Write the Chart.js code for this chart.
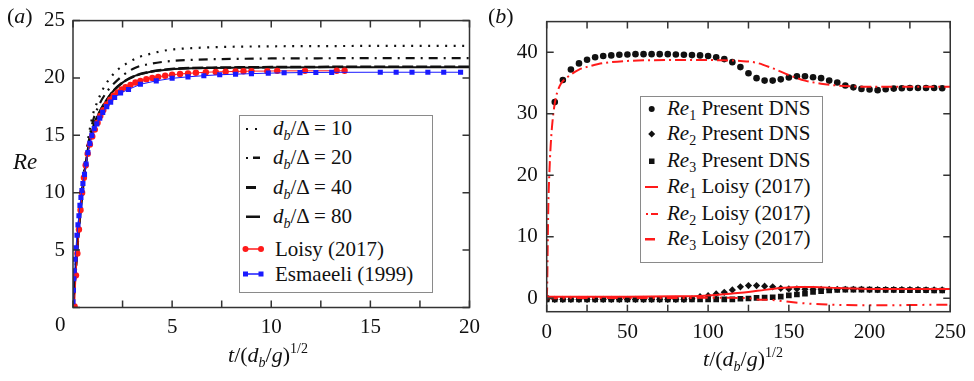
<!DOCTYPE html>
<html>
<head>
<meta charset="utf-8">
<script src="https://cdn.jsdelivr.net/npm/chart.js@4.4.1/dist/chart.umd.min.js"></script>
<style>
body{margin:0;background:#fff;}
#wrap{position:relative;width:974px;height:381px;font-family:"Liberation Serif",Tinos,"Noto Serif",serif;color:#111;}
canvas{position:absolute;top:0;}
.t{position:absolute;white-space:nowrap;font-size:21px;line-height:1;}
i{font-style:italic;}
sub{font-size:14px;vertical-align:-5px;line-height:0;}
sup{font-size:14px;vertical-align:9px;line-height:0;}
.box{position:absolute;border:1px solid #8a8a8a;background:#fff;}
.row{position:absolute;height:24px;line-height:24px;font-size:21px;white-space:nowrap;}
</style>
</head>
<body>
<div id="wrap">
  <canvas id="chartA" width="487" height="381" style="left:0"></canvas>
  <canvas id="chartB" width="487" height="381" style="left:487px"></canvas>

  <div class="t" style="left:7px;top:5px;font-size:22px">(<i>a</i>)</div>
  <div class="t" style="left:488px;top:5px;font-size:22px">(<i>b</i>)</div>
  <div class="t" style="left:13px;top:150px;font-size:23px"><i>Re</i></div>
  <div class="t" style="left:55px;top:314px">0</div>
  <div class="t" style="left:228px;top:344px;font-size:22px"><i>t</i>/(<i>d</i><sub><i>b</i></sub>/<i>g</i>)<sup>1/2</sup></div>
  <div class="t" style="left:703px;top:348px;font-size:22px"><i>t</i>/(<i>d</i><sub><i>b</i></sub>/<i>g</i>)<sup>1/2</sup></div>

  <!-- legend (a) -->
  <div class="box" style="left:239px;top:115px;width:192px;height:176px"></div>
  <div class="row" style="left:242px;top:116px">
    <svg width="26" height="24" style="position:absolute;left:0"><rect x="4" y="12" width="2" height="2" fill="#111"/><rect x="13" y="12" width="2" height="2" fill="#111"/></svg>
    <span style="position:absolute;left:31px"><i>d</i><sub><i>b</i></sub>/Δ = 10</span></div>
  <div class="row" style="left:242px;top:145px">
    <svg width="26" height="24" style="position:absolute;left:0"><rect x="4" y="12" width="2" height="2" fill="#111"/><rect x="11" y="11.5" width="7" height="2.5" fill="#111"/></svg>
    <span style="position:absolute;left:31px"><i>d</i><sub><i>b</i></sub>/Δ = 20</span></div>
  <div class="row" style="left:242px;top:175px">
    <svg width="26" height="24" style="position:absolute;left:0"><rect x="4" y="11" width="10" height="3" fill="#111"/></svg>
    <span style="position:absolute;left:31px"><i>d</i><sub><i>b</i></sub>/Δ = 40</span></div>
  <div class="row" style="left:242px;top:204px">
    <svg width="26" height="24" style="position:absolute;left:0"><rect x="4" y="11.5" width="14" height="2.5" fill="#111"/></svg>
    <span style="position:absolute;left:31px"><i>d</i><sub><i>b</i></sub>/Δ = 80</span></div>
  <div class="row" style="left:242px;top:237px">
    <svg width="26" height="24" style="position:absolute;left:0"><line x1="3" y1="12" x2="19" y2="12" stroke="#ff1a1a" stroke-width="1.5"/><circle cx="3.5" cy="12" r="3" fill="#ff1a1a"/><circle cx="19" cy="12" r="3" fill="#ff1a1a"/></svg>
    <span style="position:absolute;left:33px">Loisy (2017)</span></div>
  <div class="row" style="left:242px;top:262px">
    <svg width="26" height="24" style="position:absolute;left:0"><line x1="3" y1="12" x2="19" y2="12" stroke="#1a1aff" stroke-width="1.5"/><rect x="1" y="9.5" width="5" height="5" fill="#1a1aff"/><rect x="16.5" y="9.5" width="5" height="5" fill="#1a1aff"/></svg>
    <span style="position:absolute;left:33px">Esmaeeli (1999)</span></div>

  <!-- legend (b) -->
  <div class="box" style="left:640px;top:96px;width:181px;height:165px"></div>
  <div class="row" style="left:642px;top:96px">
    <svg width="22" height="24" style="position:absolute;left:0"><circle cx="9.7" cy="13" r="3" fill="#111"/></svg>
    <span style="position:absolute;left:25px"><i>Re</i><sub>1</sub> Present DNS</span></div>
  <div class="row" style="left:642px;top:121px">
    <svg width="22" height="24" style="position:absolute;left:0"><polygon points="9.7,9.5 13.2,13 9.7,16.5 6.2,13" fill="#111"/></svg>
    <span style="position:absolute;left:25px"><i>Re</i><sub>2</sub> Present DNS</span></div>
  <div class="row" style="left:642px;top:148px">
    <svg width="22" height="24" style="position:absolute;left:0"><rect x="7" y="10.5" width="5.5" height="5.5" fill="#111"/></svg>
    <span style="position:absolute;left:25px"><i>Re</i><sub>3</sub> Present DNS</span></div>
  <div class="row" style="left:642px;top:174px">
    <svg width="22" height="24" style="position:absolute;left:0"><rect x="3" y="12" width="13" height="2" fill="#ff1a1a"/></svg>
    <span style="position:absolute;left:25px"><i>Re</i><sub>1</sub> Loisy (2017)</span></div>
  <div class="row" style="left:642px;top:201px">
    <svg width="22" height="24" style="position:absolute;left:0"><rect x="4" y="12" width="2" height="2" fill="#ff1a1a"/><rect x="9" y="12" width="7" height="2" fill="#ff1a1a"/></svg>
    <span style="position:absolute;left:25px"><i>Re</i><sub>2</sub> Loisy (2017)</span></div>
  <div class="row" style="left:642px;top:226px">
    <svg width="22" height="24" style="position:absolute;left:0"><rect x="3" y="12" width="10" height="2.5" fill="#ff1a1a"/></svg>
    <span style="position:absolute;left:25px"><i>Re</i><sub>3</sub> Loisy (2017)</span></div>
</div>

<script>
// ---- panel (a): Re vs time for several grid resolutions ----
const tA10 = [0, 0.15, 0.3, 0.5, 0.75, 1.0, 1.25, 1.5, 1.83, 2.24, 2.74, 3.3, 3.9, 4.5, 5.1, 6, 7, 8, 10, 13, 16, 20]
const reA10 = [0, 4, 7.5, 11, 14.5, 16.8, 18.0, 19.0, 19.9, 20.7, 21.3, 21.8, 22.1, 22.35, 22.5, 22.6, 22.68, 22.72, 22.76, 22.78, 22.8, 22.8]

const tA = [0, 0.15, 0.3, 0.5, 0.75, 1.0, 1.3, 1.67, 2.0, 2.5, 3.15, 3.8, 4.5, 5.1, 6, 7, 8, 10, 13, 16, 20]
const reA20 = [0, 3.8, 7.2, 10.6, 14, 16.2, 17.6, 18.7, 19.4, 20.2, 20.9, 21.2, 21.4, 21.5, 21.58, 21.63, 21.66, 21.7, 21.72, 21.73, 21.73]
const reA40 = [0, 3.5, 7, 10.4, 13.7, 15.6, 16.9, 18.0, 18.8, 19.6, 20.2, 20.5, 20.7, 20.8, 20.87, 20.9, 20.92, 20.95, 20.97, 20.98, 20.98]
const reA80 = [0, 3.5, 7, 10.4, 13.7, 15.6, 16.9, 18.0, 18.8, 19.6, 20.2, 20.5, 20.68, 20.78, 20.85, 20.88, 20.9, 20.92, 20.93, 20.93, 20.93]

const tLoisyA = [0.08, 0.15, 0.22, 0.3, 0.38, 0.46, 0.55, 0.64, 0.74, 0.85, 0.97, 1.1, 1.24, 1.38, 1.53, 1.7, 1.88, 2.05, 2.25, 2.45, 2.65, 2.9, 3.15, 3.4, 3.7, 4.0, 4.3, 4.65, 5.0, 5.4, 5.8, 6.2, 6.7, 7.2, 7.7, 8.2, 8.6, 9.0, 9.8, 10.3, 11.7, 13.3, 13.7]
const reLoisyA = [0.1, 2.8, 4.7, 6.8, 8.5, 10.0, 11.3, 12.4, 13.4, 14.2, 14.9, 15.5, 16.1, 16.7, 17.2, 17.7, 18.1, 18.45, 18.75, 19.0, 19.2, 19.4, 19.6, 19.75, 19.9, 20.0, 20.1, 20.2, 20.28, 20.35, 20.4, 20.45, 20.5, 20.53, 20.55, 20.57, 20.58, 20.6, 20.6, 20.62, 20.62, 20.63, 20.63]

const tEsm = [0, 0.02, 0.04, 0.06, 0.1, 0.15, 0.2, 0.25, 0.3, 0.35, 0.4, 0.45, 0.5, 0.58, 0.66, 0.75, 0.85, 0.95, 1.07, 1.2, 1.35, 1.5, 1.7, 1.9, 2.1, 2.4, 2.8, 3.4, 4.2, 5.0, 5.8, 6.6, 7.4, 8.2, 9.0, 9.85, 10.65, 11.45, 12.25, 13.05, 15.5, 16.3, 17.1, 17.9, 18.7, 19.55]
const reEsm = [0.5, 1.5, 2.5, 3.2, 4.2, 5.2, 6.3, 7.2, 8.0, 8.9, 9.6, 10.2, 10.8, 11.6, 12.5, 13.5, 14.3, 15.0, 15.6, 16.0, 16.5, 17.0, 17.5, 17.9, 18.3, 18.7, 19.0, 19.45, 19.75, 19.97, 20.1, 20.2, 20.28, 20.33, 20.38, 20.42, 20.45, 20.47, 20.48, 20.49, 20.5, 20.5, 20.5, 20.5, 20.5, 20.5]

// ---- panel (b): Re components, present DNS vs Loisy ----
const tDNS = [0, 5, 10, 15, 20, 25, 30, 35, 40, 45, 50, 55, 60, 65, 70, 75, 80, 85, 90, 95, 100, 105, 110, 115, 120, 125, 130, 135, 140, 145, 150, 155, 160, 165, 170, 175, 180, 185, 190, 195, 200, 205, 210, 215, 220, 225, 230, 235, 240, 245]
const re1DNS = [0, 31.9, 35.5, 37.2, 38.2, 38.8, 39.2, 39.4, 39.5, 39.6, 39.65, 39.7, 39.7, 39.7, 39.7, 39.7, 39.65, 39.6, 39.55, 39.5, 39.4, 39.2, 38.9, 38.4, 37.6, 36.6, 35.8, 35.4, 35.4, 35.6, 35.9, 36.1, 36.1, 35.95, 35.8, 35.4, 35.1, 34.6, 34.3, 34.05, 33.95, 33.85, 34.0, 34.1, 34.15, 34.2, 34.2, 34.2, 34.2, 34.15]
const re2DNS = [-0.2, -0.2, -0.2, -0.2, -0.2, -0.2, -0.2, -0.2, -0.2, -0.2, -0.2, -0.2, -0.2, -0.2, -0.2, -0.2, -0.2, -0.2, -0.1, 0.25, 0.4, 0.7, 0.95, 1.35, 1.85, 2.05, 2.05, 1.95, 1.85, 1.6, 1.5, 1.5, 1.45, 1.45, 1.45, 1.45, 1.45, 1.45, 1.45, 1.45, 1.4, 1.4, 1.4, 1.4, 1.4, 1.4, 1.4, 1.35, 1.35, 1.35]
const re3DNS = [-0.2, -0.2, -0.2, -0.2, -0.2, -0.2, -0.2, -0.2, -0.2, -0.2, -0.2, -0.2, -0.2, -0.2, -0.2, -0.2, -0.2, -0.2, -0.2, -0.2, -0.2, -0.2, -0.2, -0.2, -0.1, -0.05, 0.05, 0.1, 0.15, 0.25, 0.45, 0.6, 0.75, 1.0, 1.15, 1.25, 1.35, 1.4, 1.4, 1.4, 1.4, 1.35, 1.35, 1.35, 1.3, 1.3, 1.3, 1.3, 1.25, 1.25]

const tLoisyB1 = [0, 0.3, 0.6, 1.0, 1.6, 2.5, 4, 6, 8, 10, 14, 20, 26, 32, 40, 50, 60, 80, 100, 110, 120, 130, 140, 150, 160, 170, 180, 190, 200, 220, 250]
const reLoisyB1 = [0, 2, 8, 15, 20, 25, 29.8, 33, 34.5, 35.3, 36.2, 37.2, 37.7, 38.1, 38.4, 38.6, 38.7, 38.75, 38.75, 38.7, 38.6, 38.3, 37.4, 36.3, 35.4, 34.9, 34.6, 34.45, 34.4, 34.4, 34.4]
const tLoisyB2 = [0, 100, 115, 125, 130, 140, 150, 160, 170, 185, 200, 215, 230, 250]
const reLoisyB2 = [0, 0.05, 0.05, 0, -0.2, -0.3, -0.6, -0.85, -1.0, -1.12, -1.15, -1.15, -1.1, -1.05]
const tLoisyB3 = [0, 0.5, 20, 50, 80, 95, 105, 115, 125, 135, 145, 150, 155, 165, 180, 195, 210, 230, 250]
const reLoisyB3 = [0, 0.25, 0.25, 0.25, 0.3, 0.35, 0.5, 0.75, 1.0, 1.35, 1.65, 1.75, 1.8, 1.8, 1.65, 1.55, 1.5, 1.5, 1.5]

const yTicksB = [0, 10, 20, 30, 40]

const RED = '#ff1a1a', BLUE = '#1a1aff', INK = '#111'
const FONT = {family: "'Liberation Serif', Tinos, 'Noto Serif', serif", size: 21}
const pts = (xs, ys) => xs.map((x, i) => ({x: x, y: ys[i]}))

// frame round the plot area and inward tick marks on all four sides
const frameTicks = {
    id: 'frameTicks',
    afterDraw(chart) {
        const {ctx, chartArea: a, scales} = chart
        const L = 7
        ctx.save()
        ctx.strokeStyle = '#333'
        ctx.lineWidth = 1.5
        ctx.strokeRect(a.left, a.top, a.right - a.left, a.bottom - a.top)
        ctx.beginPath()
        scales.x.ticks.forEach(t => {
            const px = scales.x.getPixelForValue(t.value)
            ctx.moveTo(px, a.bottom); ctx.lineTo(px, a.bottom - L)
            ctx.moveTo(px, a.top); ctx.lineTo(px, a.top + L)
        })
        scales.y.ticks.forEach(t => {
            const py = scales.y.getPixelForValue(t.value)
            ctx.moveTo(a.left, py); ctx.lineTo(a.left + L, py)
            ctx.moveTo(a.right, py); ctx.lineTo(a.right - L, py)
        })
        ctx.stroke()
        ctx.restore()
    }
}

function lineSet(data, color, dash, width) {
    return {data: data, borderColor: color, borderWidth: width, borderDash: dash,
        pointRadius: 0, fill: false, cubicInterpolationMode: 'monotone'}
}
function markSet(data, color, style, r, lineW) {
    return {data: data, borderColor: color, backgroundColor: color, borderWidth: lineW,
        showLine: lineW > 0, pointStyle: style, pointRadius: r, pointBorderWidth: 0,
        pointBackgroundColor: color, fill: false}
}

function opts(cfg) {
    return {
        responsive: false, animation: false, devicePixelRatio: 1,
        layout: {padding: cfg.pad},
        plugins: {legend: {display: false}, tooltip: {enabled: false}},
        scales: {
            x: {type: 'linear', min: cfg.xmin, max: cfg.xmax,
                grid: {display: false, drawTicks: false}, border: {display: false},
                ticks: {stepSize: cfg.xstep, autoSkip: false, maxRotation: 0, color: INK, font: FONT,
                    padding: cfg.xpad, callback: cfg.xlab},
                afterFit: s => { s.height = 40 }},
            y: {type: 'linear', min: cfg.ymin, max: cfg.ymax,
                grid: {display: false, drawTicks: false}, border: {display: false},
                ticks: {stepSize: cfg.ystep, autoSkip: false, color: INK, font: FONT,
                    padding: cfg.ypad, callback: cfg.ylab},
                afterBuildTicks: cfg.yticks ? s => { s.ticks = cfg.yticks.map(v => ({value: v})) } : undefined,
                afterFit: s => { s.width = cfg.yw }}
        }
    }
}

// nudge the layout padding until the plot area sits where the reference has it
function placeArea(chart, target) {
    for (let k = 0; k < 3; k++) {
        const a = chart.chartArea
        const p = chart.config.options.layout.padding
        chart.config.options.layout.padding = {
            left: p.left + target.left - a.left,
            right: p.right + a.right - target.right,
            top: p.top + target.top - a.top,
            bottom: p.bottom + a.bottom - target.bottom
        }
        chart.update('none')
    }
}

const chartA = new Chart(document.getElementById('chartA'), {
    type: 'line',
    data: {datasets: [
        markSet(pts(tEsm, reEsm), BLUE, 'rect', 3.6, 1),
        markSet(pts(tLoisyA, reLoisyA), RED, 'circle', 3.2, 1),
        lineSet(pts(tA, reA80), INK, [], 2),
        lineSet(pts(tA, reA40), INK, [11, 3], 2.5),
        lineSet(pts(tA, reA20), INK, [9, 6, 2, 6], 2.2),
        lineSet(pts(tA10, reA10), INK, [2, 6.5], 2.2)
    ]},
    options: opts({pad: {left: 0, right: 11, top: 14, bottom: 33.5},
        xmin: 0, xmax: 20, xstep: 2.5, xpad: 7, xlab: v => (v % 5 === 0 && v !== 0) ? v : '',
        ymin: 0, ymax: 25, ystep: 5, ypad: 8, ylab: v => v === 0 ? '' : v, yw: 73}),
    plugins: [frameTicks]
})
placeArea(chartA, {left: 73, right: 476, top: 14, bottom: 307.5})

const chartB = new Chart(document.getElementById('chartB'), {
    type: 'line',
    data: {datasets: [
        lineSet(pts(tLoisyB1, reLoisyB1), RED, [11, 4, 2, 4], 2),
        lineSet(pts(tLoisyB3, reLoisyB3), RED, [], 2),
        lineSet(pts(tLoisyB2, reLoisyB2), RED, [11, 5, 2, 5, 2, 5], 2),
        markSet(pts(tDNS, re1DNS), INK, 'circle', 3.3, 0),
        markSet(pts(tDNS, re2DNS), INK, 'rectRot', 3.6, 0),
        markSet(pts(tDNS, re3DNS), INK, 'rect', 4, 0)
    ]},
    options: opts({pad: {left: 0, right: 17.3, top: 11.7, bottom: 29.3},
        xmin: 0, xmax: 250, xstep: 25, xpad: 8, xlab: v => v % 50 === 0 ? v : '',
        ymin: -2.2, ymax: 45, ystep: 10, ypad: 9, ylab: v => v, yticks: yTicksB, yw: 59.7}),
    plugins: [frameTicks]
})
placeArea(chartB, {left: 59.7, right: 469.7, top: 11.7, bottom: 311.7})

document.fonts.ready.then(() => { chartA.update('none'); chartB.update('none') })
</script>
</body>
</html>
